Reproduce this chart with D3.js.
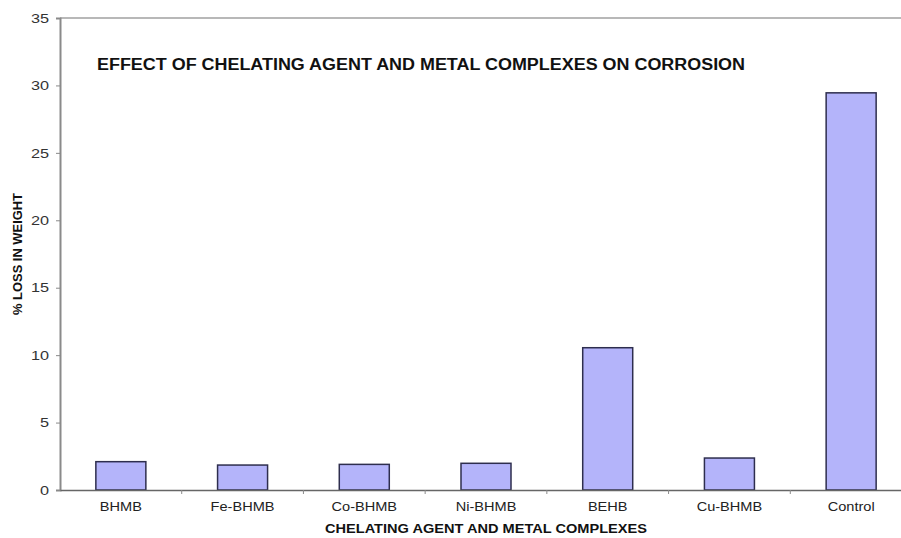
<!DOCTYPE html>
<html lang="en">
<head>
    <meta charset="UTF-8">
    <title>Effect of chelating agent and metal complexes on corrosion</title>
    <script src="https://d3js.org/d3.v7.min.js"></script>
    <style>
        body { margin: 0; background: #fff; }
        svg { display: block; }
    </style>
</head>
<body>
<svg id="chart" width="901" height="538"></svg>
<script>
(function () {
    'use strict';

    // data
    const categories = ["BHMB", "Fe-BHMB", "Co-BHMB", "Ni-BHMB", "BEHB", "Cu-BHMB", "Control"];
    const lossValues = [2.1, 1.85, 1.9, 1.98, 10.55, 2.37, 29.45];
    const yTicks = [0, 5, 10, 15, 20, 25, 30, 35];

    const width = 901, height = 538;
    const left = 60, right = 912, top = 18, bottom = 490;

    const svg = d3.select("#chart")
        .style("font-family", "Arial, 'Liberation Sans', sans-serif");

    // the source picture is a bit wider than tall, so text gets stretched sideways
    function stretch(sel, factor) {
        sel.each(function () {
            const w = this.getComputedTextLength();
            d3.select(this)
                .attr("textLength", w * factor)
                .attr("lengthAdjust", "spacingAndGlyphs");
        });
    }

    const x = d3.scaleBand()
        .domain(categories)
        .range([left, right]);

    const y = d3.scaleLinear()
        .domain([0, 35])
        .range([bottom, top]);

    const axisColor = "#8a8a8a";

    // top border of the plot area
    svg.append("line")
        .attr("x1", left).attr("x2", width)
        .attr("y1", y(35)).attr("y2", y(35))
        .attr("stroke", "#b8b8b8")
        .attr("stroke-width", 2);

    // bars
    svg.append("g")
        .selectAll("rect")
        .data(categories)
        .join("rect")
        .attr("x", d => x(d) + x.bandwidth() / 2 - 25)
        .attr("width", 50)
        .attr("y", (d, i) => y(lossValues[i]))
        .attr("height", (d, i) => y(0) - y(lossValues[i]))
        .attr("fill", "#b4b4fa")
        .attr("stroke", "#2e2e4e")
        .attr("stroke-width", 1.5);

    // y axis
    const yAxis = svg.append("g")
        .attr("transform", `translate(${left},0)`)
        .call(d3.axisLeft(y).tickValues(yTicks).tickSize(4).tickPadding(7));
    yAxis.select(".domain").attr("stroke", axisColor).attr("stroke-width", 2);
    yAxis.selectAll(".tick line").attr("stroke", axisColor);
    yAxis.selectAll(".tick text")
        .attr("fill", "#333")
        .style("font-size", "13px")
        .call(stretch, 1.25);

    // x axis: ticks sit between categories
    const xAxis = svg.append("g")
        .attr("transform", `translate(0,${bottom})`)
        .call(d3.axisBottom(x).tickSize(0).tickPadding(12));
    xAxis.select(".domain").attr("stroke", "#666").attr("stroke-width", 1.5);
    xAxis.selectAll(".tick text")
        .attr("fill", "#222")
        .style("font-size", "13px")
        .call(stretch, 1.12);

    svg.append("g")
        .selectAll("line")
        .data(categories.slice(1))
        .join("line")
        .attr("x1", d => x(d)).attr("x2", d => x(d))
        .attr("y1", bottom).attr("y2", bottom + 4)
        .attr("stroke", axisColor);

    // chart title
    svg.append("text")
        .attr("x", 97)
        .attr("y", 70)
        .attr("textLength", 648)
        .attr("lengthAdjust", "spacingAndGlyphs")
        .style("font-size", "16px")
        .style("font-weight", "bold")
        .attr("fill", "#111")
        .text("EFFECT OF CHELATING AGENT AND METAL COMPLEXES ON CORROSION");

    // axis titles
    svg.append("text")
        .attr("x", (left + right) / 2)
        .attr("y", 533)
        .attr("text-anchor", "middle")
        .attr("textLength", 322)
        .attr("lengthAdjust", "spacingAndGlyphs")
        .style("font-size", "12.5px")
        .style("font-weight", "bold")
        .attr("fill", "#111")
        .text("CHELATING AGENT AND METAL COMPLEXES");

    svg.append("text")
        .attr("transform", `translate(22,${(top + bottom) / 2}) rotate(-90)`)
        .attr("text-anchor", "middle")
        .attr("textLength", 122)
        .attr("lengthAdjust", "spacingAndGlyphs")
        .style("font-size", "12px")
        .style("font-weight", "bold")
        .attr("fill", "#111")
        .text("% LOSS IN WEIGHT");
}());
</script>
</body>
</html>
